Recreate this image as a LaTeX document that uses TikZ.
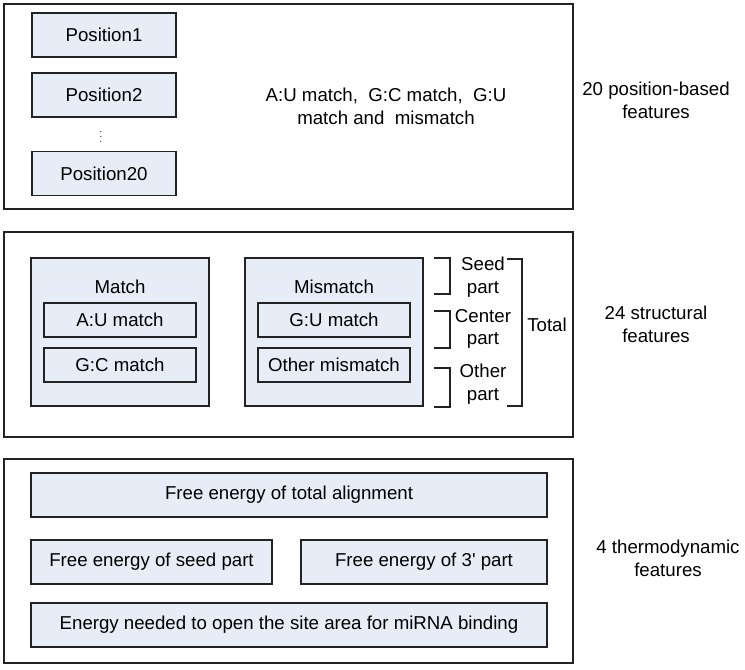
\documentclass[tikz,border=0pt]{standalone}
\usepackage{fontspec}
\setmainfont{Liberation Sans}
\definecolor{boxfill}{RGB}{230,237,247}
\definecolor{edge}{RGB}{35,35,35}

\begin{document}
\begin{tikzpicture}[x=0.75pt,y=0.75pt,yscale=-1,xscale=1,
  frame/.style={draw=edge, line width=1pt, inner sep=0pt, minimum width=426.75pt},
  cell/.style={draw=edge, line width=0.9pt, fill=boxfill, inner sep=0pt, font=\fontsize{14}{17}\selectfont},
  txt/.style={inner sep=0.75pt, align=center, font=\fontsize{14}{17}\selectfont},
  bracket/.style={draw=edge, line width=0.9pt}]
\useasboundingbox (0,0) rectangle (745,669);

%Shape: Rectangle (position-based part)
\node[frame, minimum height=153.75pt] (posframe) at (288.5,106.5) {};
%Shape: Rectangle
\node[cell, minimum width=108pt, minimum height=33pt] (pos1) at (104,35) {Position1};
%Shape: Rectangle
\node[cell, minimum width=108pt, minimum height=33pt] (pos2) at (104,95) {Position2};
% Text Node
\node[txt, font=\scriptsize] (posdots) at (101,133) {$\vdots$};
%Shape: Rectangle
\node[cell, minimum width=108pt, minimum height=33pt] (pos20) at (104,173.5) {Position20};
% Text Node
\node[txt] (pairtypes) at (386,106.5) {A:U match,\ \ G:C match,\ \ G:U\\match and\ \ mismatch};
% Text Node
\node[txt] (poslabel) at (656,100) {20 position-based\\features};

%Shape: Rectangle (structural part)
\node[frame, minimum height=153.75pt] (structframe) at (288.5,334.5) {};
%Shape: Rectangle
\node[cell, minimum width=133.5pt, minimum height=111pt] (matchbox) at (120,332) {};
\node[txt] (matchlbl) at (120,287) {Match};
\node[cell, minimum width=114pt, minimum height=25.5pt] (aumatch) at (120,320) {A:U match};
\node[cell, minimum width=114pt, minimum height=25.5pt] (gcmatch) at (120,365) {G:C match};
%Shape: Rectangle
\node[cell, minimum width=133.5pt, minimum height=111pt] (mismatchbox) at (334,332) {};
\node[txt] (mismatchlbl) at (334,287) {Mismatch};
\node[cell, minimum width=114pt, minimum height=25.5pt] (gumatch) at (334,320) {G:U match};
\node[cell, minimum width=114pt, minimum height=25.5pt] (othermis) at (334,365) {Other mismatch};
%Straight Lines (brackets)
\draw[bracket] (434,258) -- (450,258) -- (450,294) -- (434,294);
\draw[bracket] (434,311) -- (450,311) -- (450,348) -- (434,348);
\draw[bracket] (434,368) -- (450,368) -- (450,407) -- (434,407);
\draw[bracket] (507,259) -- (522,259) -- (522,406) -- (507,406);
% Text Node
\node[txt] (seedlbl) at (483,277) {Seed\\part};
\node[txt] (centerlbl) at (483,329) {Center\\part};
\node[txt] (otherlbl) at (483,384) {Other\\part};
\node[txt] (totallbl) at (547,325) {Total};
% Text Node
\node[txt] (structlabel) at (656,324.5) {24 structural\\features};

%Shape: Rectangle (thermodynamic part)
\node[frame, minimum height=153pt] (thermoframe) at (288.5,561) {};
%Shape: Rectangle
\node[cell, minimum width=387pt, minimum height=33pt] (dgtotal) at (289,495) {Free energy of total alignment};
\node[cell, minimum width=180.75pt, minimum height=33pt] (dgseed) at (151.5,562) {Free energy of seed part};
\node[cell, minimum width=184.5pt, minimum height=33pt] (dgthree) at (424,562) {Free energy of 3\textquotesingle\ part};
\node[cell, minimum width=387pt, minimum height=33pt] (dgopen) at (289,625) {Energy needed to open the site area for miRNA binding};
% Text Node
\node[txt] (thermolabel) at (668,558.5) {4 thermodynamic\\features};

\end{tikzpicture}
\end{document}
